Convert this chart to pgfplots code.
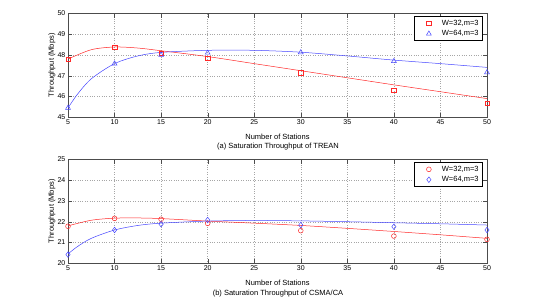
\documentclass[border=0pt]{standalone}
\usepackage{fontspec}
\setmainfont{Liberation Sans}
\usepackage{pgfplots}
\pgfplotsset{compat=1.18}
\definecolor{myred}{RGB}{255,40,40}
\definecolor{myblue}{RGB}{70,70,255}
\begin{document}
\fontsize{7.5}{8.5}\selectfont
\begin{tikzpicture}
\path[use as bounding box] (0pt,0pt) rectangle (540pt,306pt);
\pgfplotsset{
  myaxis/.style={
    scale only axis, width=419pt, height=104pt,
    xmin=5, xmax=50, xtick={5,10,...,50},
    grid=major, major grid style={dotted, gray!70},
    tick align=inside, axis line style={gray!60!black, line width=0.6pt},
    tick style={gray!60!black},
    ticklabel style={font=\fontsize{7}{8}\selectfont},
    label style={font=\fontsize{7.5}{8.5}\selectfont},
    /pgf/number format/assume math mode=true,
    xlabel={Number of Stations}, ylabel={Throughput (Mbps)},
    xlabel style={yshift=-4pt}, ylabel style={yshift=-3pt},
    legend style={at={(0.99,0.97)}, anchor=north east, font=\fontsize{7.5}{8.5}\selectfont,
      draw=black, line width=0.5pt, inner sep=2pt, row sep=1pt,
      nodes={inner xsep=2pt, inner ysep=1.5pt}},
    legend cell align=left,
    legend image code/.code={\path[draw=none] (0pt,0pt) -- (24pt,0pt); \draw[only marks] plot coordinates {(13pt,0pt)};},
  }
}
\begin{axis}[myaxis, at={(68pt,188.7pt)}, anchor=south west, ymin=45, ymax=50, ytick={45,...,50}]
\addplot[myred, only marks, mark=square, mark size=2.2pt, mark options={line width=0.5pt}] coordinates {(5,47.8)(10,48.37)(15,48.08)(20,47.84)(30,47.14)(40,46.31)(50,45.67)};
\addlegendentry{W=32,m=3}
\addplot[myblue, only marks, mark=triangle, mark size=2.8pt, mark options={line width=0.5pt}] coordinates {(5,45.45)(10,47.58)(15,48.0)(20,48.1)(30,48.12)(40,47.7)(50,47.16)};
\addlegendentry{W=64,m=3}
\addplot[myred, smooth, line width=0.5pt, forget plot] coordinates {(5,47.8)(7.5,48.25)(10,48.38)(12.5,48.33)(15,48.2)(20,47.92)(25,47.58)(30,47.24)(35,46.9)(40,46.56)(45,46.23)(50,45.9)};
\addplot[myblue, smooth, line width=0.5pt, forget plot] coordinates {(5,45.45)(6,46.1)(7.5,46.85)(10,47.58)(12.5,47.95)(15,48.12)(20,48.22)(25,48.22)(30,48.13)(35,47.95)(40,47.75)(45,47.58)(50,47.4)};
\end{axis}
\node at (278pt,159pt) {(a) Saturation Throughput of TREAN};
\begin{axis}[myaxis, at={(68pt,42.7pt)}, anchor=south west, ymin=20, ymax=25, ytick={20,...,25}]
\addplot[myred, only marks, mark=o, mark size=2.4pt, mark options={line width=0.5pt}] coordinates {(5,21.78)(10,22.16)(15,22.12)(20,21.92)(30,21.57)(40,21.31)(50,21.15)};
\addlegendentry{W=32,m=3}
\addplot[myblue, only marks, mark=diamond, mark size=2.8pt, mark options={line width=0.5pt}] coordinates {(5,20.42)(10,21.6)(15,21.88)(20,22.08)(30,21.84)(40,21.76)(50,21.6)};
\addlegendentry{W=64,m=3}
\addplot[myred, smooth, line width=0.5pt, forget plot] coordinates {(5,21.8)(7.5,22.07)(10,22.17)(12.5,22.18)(15,22.15)(20,22.03)(25,21.93)(30,21.82)(35,21.68)(40,21.53)(45,21.37)(50,21.2)};
\addplot[myblue, smooth, line width=0.5pt, forget plot] coordinates {(5,20.45)(6,20.8)(7.5,21.2)(10,21.6)(12.5,21.82)(15,21.93)(20,22.03)(25,22.06)(30,22.04)(35,22.0)(40,21.95)(45,21.9)(50,21.84)};
\end{axis}
\node at (278pt,12pt) {(b) Saturation Throughput of CSMA/CA};
\end{tikzpicture}
\end{document}
